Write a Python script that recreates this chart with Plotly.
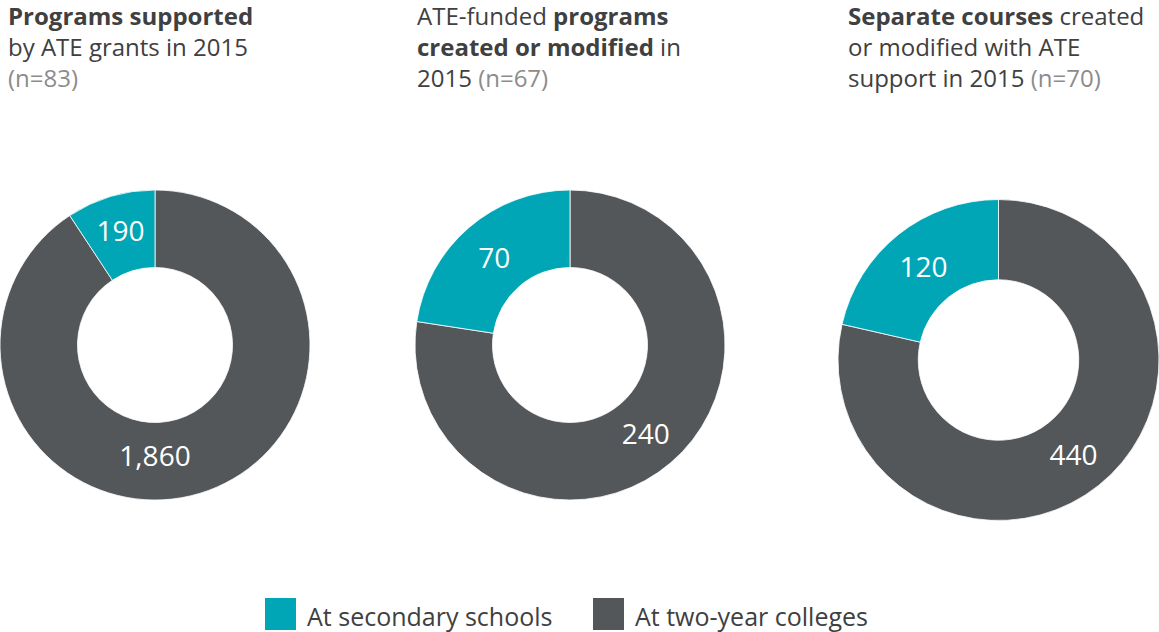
import plotly.graph_objects as go

W, H = 1159, 632

categories = ["At secondary schools", "At two-year colleges"]
programs_supported = [190, 1860]
programs_created = [70, 240]
courses_created = [120, 440]

titles = [
    "<b>Programs supported</b><br>by ATE grants in 2015<br><span style='color:#8c8c8c'>(n=83)</span>",
    "ATE-funded <b>programs</b><br><b>created or modified</b> in<br>2015 <span style='color:#8c8c8c'>(n=67)</span>",
    "<b>Separate courses</b> created<br>or modified with ATE<br>support in 2015 <span style='color:#8c8c8c'>(n=70)</span>",
]

colors = ["#00a6b5", "#54575a"]
font = "Open Sans"


def px_x(a, b):
    return [a / W, b / W]


def px_y(top, bottom):
    return [1 - bottom / H, 1 - top / H]


# pixel boxes for each donut (left, right, top, bottom)
boxes = [
    (0, 310, 190, 500),
    (415, 725, 190, 500),
    (838, 1159, 199, 521),
]
series = [programs_supported, programs_created, courses_created]

fig = go.Figure()

for vals, (l, r, t, b) in zip(series, boxes):
    # two-year slice first so it runs clockwise from 12 o'clock
    fig.add_trace(go.Pie(
        labels=categories[::-1],
        values=vals[::-1],
        hole=0.5,
        sort=False,
        direction="clockwise",
        rotation=0,
        marker=dict(colors=colors[::-1], line=dict(color="white", width=0.8)),
        texttemplate="%{value:,}",
        textposition="inside",
        insidetextorientation="horizontal",
        textfont=dict(family=font, size=28, color="white"),
        domain=dict(x=px_x(l, r), y=px_y(t, b)),
        showlegend=False,
        hoverinfo="label+value",
    ))

title_x = [6, 415, 846]
for tx, txt in zip(title_x, titles):
    fig.add_annotation(
        x=tx / W, y=1 + 3 / H, xref="paper", yref="paper",
        xanchor="left", yanchor="top", align="left",
        text=txt, showarrow=False,
        font=dict(family=font, size=24, color="#404040"),
    )

# legend drawn by hand so the swatches match the original size
legend_items = [(265, categories[0], colors[0]), (593, categories[1], colors[1])]
for lx, name, c in legend_items:
    fig.add_shape(
        type="rect", xref="paper", yref="paper",
        x0=lx / W, x1=(lx + 31) / W, y0=1 - 630 / H, y1=1 - 598 / H,
        fillcolor=c, line=dict(width=0),
    )
    fig.add_annotation(
        x=(lx + 40) / W, y=1 - 616 / H, xref="paper", yref="paper",
        xanchor="left", yanchor="middle", text=name, showarrow=False,
        font=dict(family=font, size=25, color="#404040"),
    )

fig.update_layout(
    width=W,
    height=H,
    margin=dict(l=0, r=0, t=0, b=0),
    paper_bgcolor="white",
    plot_bgcolor="white",
    showlegend=False,
)

# drop the browser's default body margin so the figure sits at the page corner
fig.write_html(
    "out.html",
    config={"displayModeBar": False},
    post_script="document.body.style.margin='0';",
)
